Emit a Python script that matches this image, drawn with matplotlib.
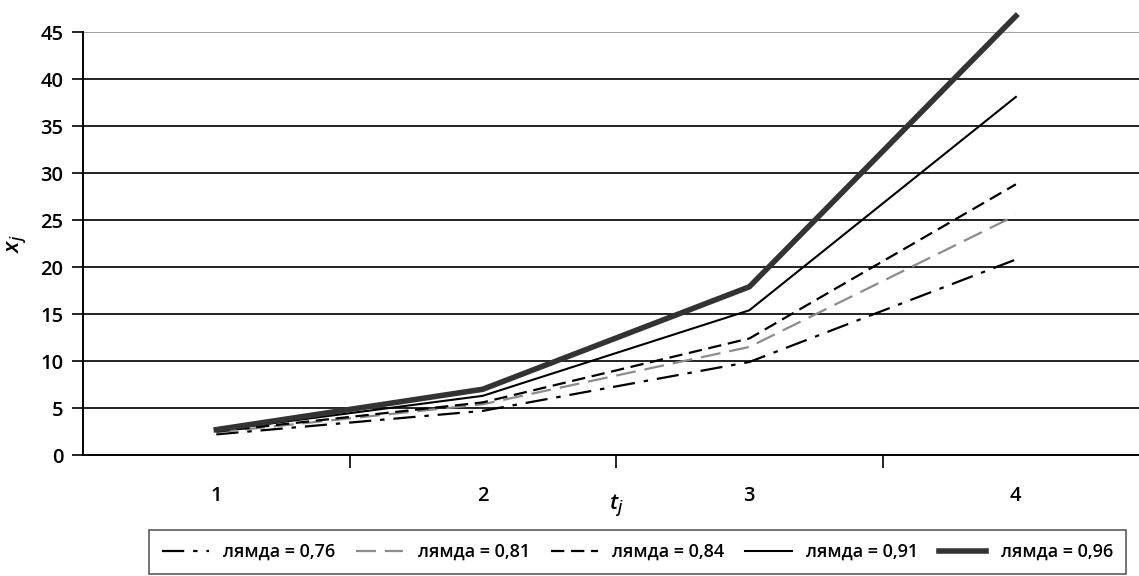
import numpy as np
import matplotlib.pyplot as plt

plt.rcParams['font.family'] = ['Open Sans', 'DejaVu Sans']
plt.rcParams['font.weight'] = 'semibold'
plt.rcParams['mathtext.fontset'] = 'custom'
plt.rcParams['mathtext.it'] = 'Open Sans:italic'
plt.rcParams['mathtext.rm'] = 'Open Sans'

t = [1, 2, 3, 4]
lam_076 = [2.2, 4.7, 9.9, 20.8]
lam_081 = [2.4, 5.4, 11.5, 25.5]
lam_084 = [2.5, 5.6, 12.4, 28.8]
lam_091 = [2.6, 6.3, 15.4, 38.1]
lam_096 = [2.7, 7.0, 17.9, 46.7]
labels = ['лямда = 0,76', 'лямда = 0,81', 'лямда = 0,84', 'лямда = 0,91', 'лямда = 0,96']

fig = plt.figure(figsize=(11.39, 5.76), dpi=100)
ax = fig.add_axes([0.0729, 0.21, 0.936, 0.7344])

ax.set_xlim(0.5, 4.5)
ax.set_ylim(0, 45)

for y in range(5, 45, 5):
    ax.axhline(y, color='#222222', lw=1.4, zorder=1)
ax.axhline(45, color='#a0a0a0', lw=1.4, zorder=1)

ax.plot(t, lam_076, color='black', lw=1.6, dashes=(10, 4, 2, 4), label=labels[0], clip_on=False, zorder=3)
ax.plot(t, lam_081, color='#8c8c8c', lw=1.6, dashes=(9, 4), label=labels[1], clip_on=False, zorder=3)
ax.plot(t, lam_084, color='black', lw=1.6, dashes=(6, 3), label=labels[2], clip_on=False, zorder=3)
ax.plot(t, lam_091, color='black', lw=1.5, label=labels[3], clip_on=False, zorder=3)
ax.plot(t, lam_096, color='#333333', lw=4, label=labels[4], clip_on=False, zorder=4)

for s in ['top', 'right']:
    ax.spines[s].set_visible(False)
ax.spines['left'].set_linewidth(1.4)
ax.spines['bottom'].set_linewidth(1.4)

ax.set_yticks(range(0, 50, 5))
ax.tick_params(axis='y', labelsize=14.5, length=8, width=1.2, pad=6)

ax.set_xticks([1.5, 2.5, 3.5])
ax.set_xticklabels([])
ax.set_xticks(t, minor=True)
ax.set_xticklabels(['1', '2', '3', '4'], minor=True)
ax.tick_params(axis='x', which='major', length=9, width=1.2)
ax.tick_params(axis='x', which='minor', length=0, labelsize=14.5, pad=22)

ax.set_ylabel('$x_j$', fontsize=16)
ax.yaxis.set_label_coords(-0.05, 0.5)
ax.text(2.5, -0.09, '$t_j$', transform=ax.get_xaxis_transform(), fontsize=16, ha='center', va='top')

leg = fig.legend(loc='lower center', bbox_to_anchor=(0.5597, 0.004),
                 ncol=5, fontsize=13, frameon=True, fancybox=False, handlelength=2.6,
                 borderaxespad=0, borderpad=0.7, columnspacing=1.15, handletextpad=0.8)
leg.get_frame().set_edgecolor('#333333')
leg.get_frame().set_linewidth(1.2)

fig.savefig('out.png', dpi=100)
